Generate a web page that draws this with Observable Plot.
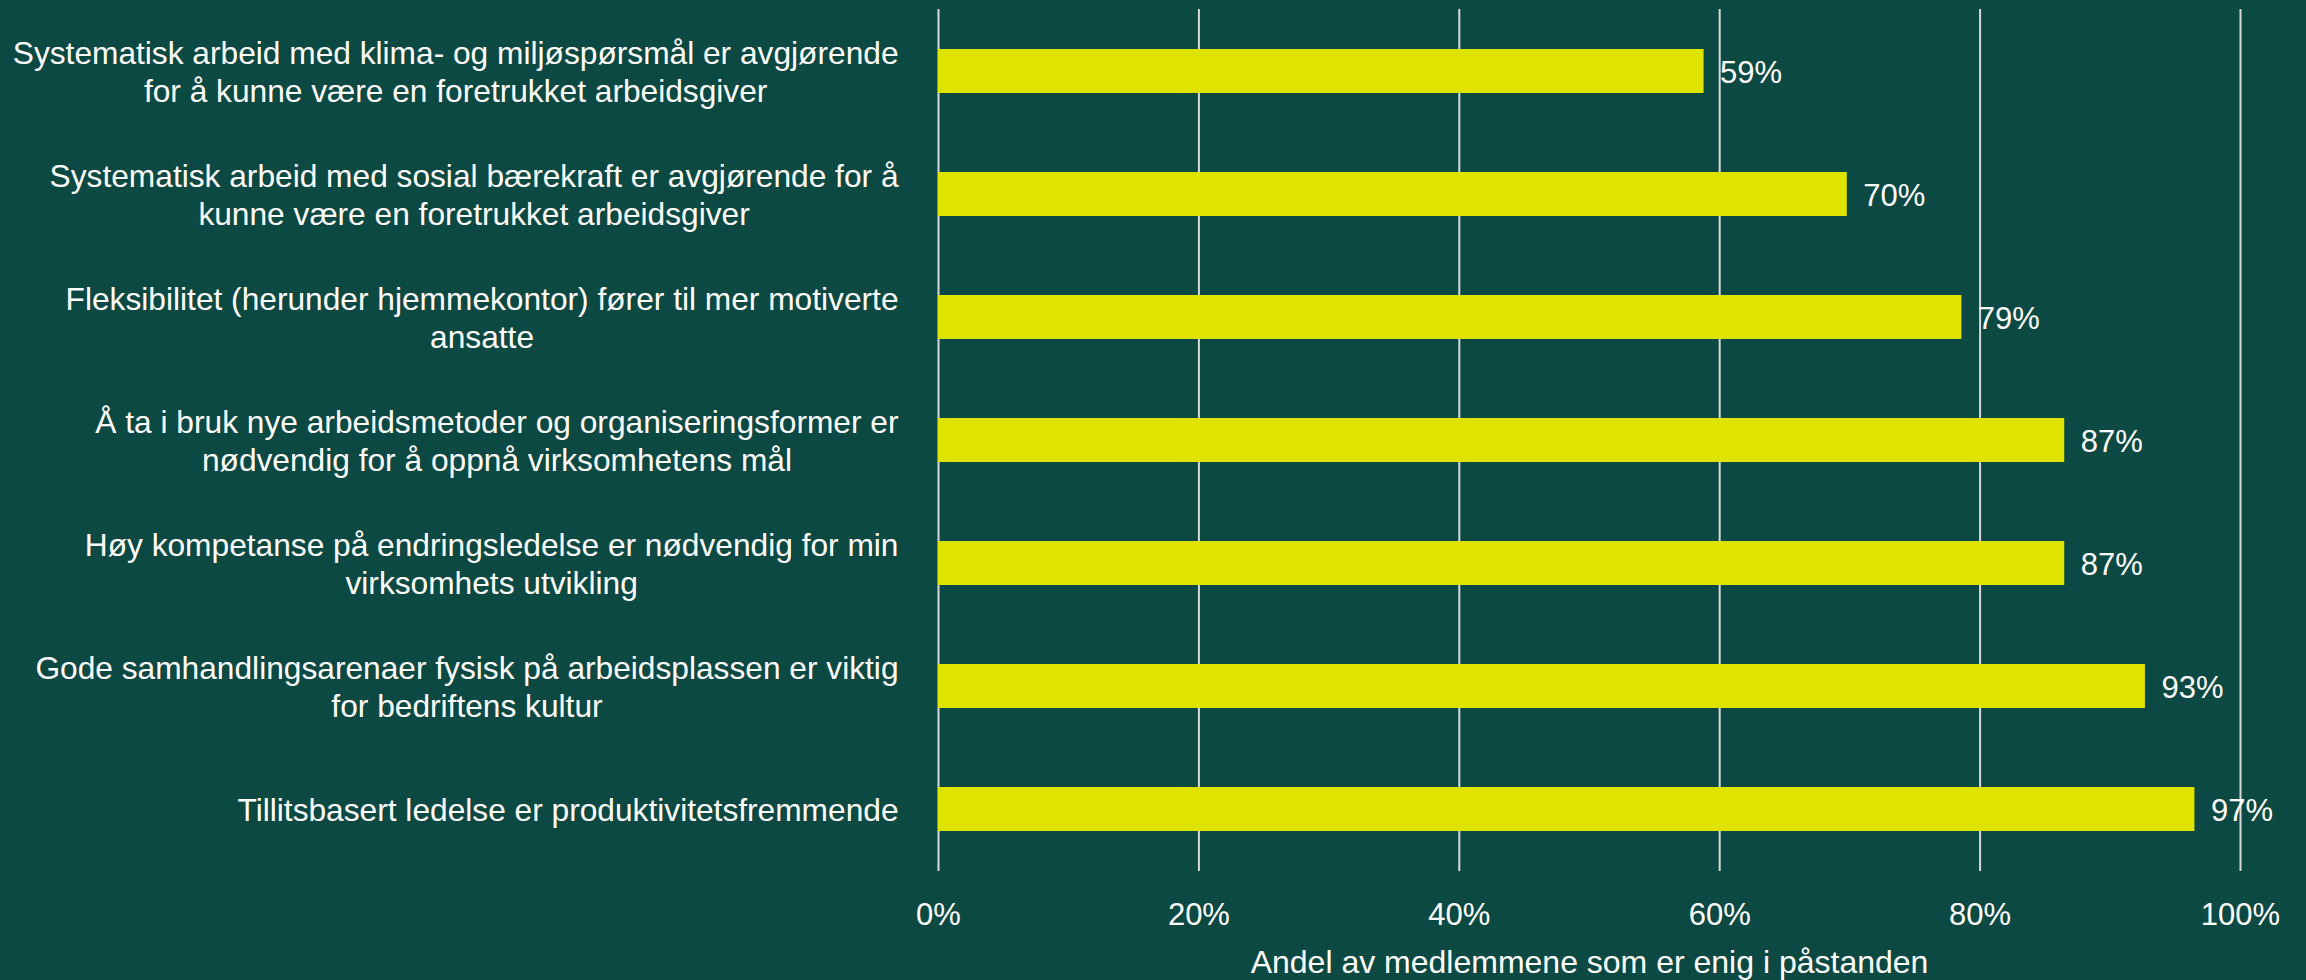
<!DOCTYPE html>
<html>
<head>
<meta charset="utf-8">
<script src="https://cdn.jsdelivr.net/npm/d3@7"></script>
<script src="https://cdn.jsdelivr.net/npm/@observablehq/plot@0.6"></script>
<style>
  html, body { margin: 0; padding: 0; background: #0d4943; }
  #chart svg { display: block; }
</style>
</head>
<body>
<div id="chart"></div>
<script>
// ---- data ----
const categories = [
  "Systematisk arbeid med klima- og miljøspørsmål er avgjørende\nfor å kunne være en foretrukket arbeidsgiver",
  "Systematisk arbeid med sosial bærekraft er avgjørende for å\nkunne være en foretrukket arbeidsgiver",
  "Fleksibilitet (herunder hjemmekontor) fører til mer motiverte\nansatte",
  "Å ta i bruk nye arbeidsmetoder og organiseringsformer er\nnødvendig for å oppnå virksomhetens mål",
  "Høy kompetanse på endringsledelse er nødvendig for min\nvirksomhets utvikling",
  "Gode samhandlingsarenaer fysisk på arbeidsplassen er viktig\nfor bedriftens kultur",
  "Tillitsbasert ledelse er produktivitetsfremmende"
];
const values = [0.588, 0.698, 0.786, 0.865, 0.865, 0.927, 0.965];
const valueLabels = ["59%", "70%", "79%", "87%", "87%", "93%", "97%"];
const xTicks = [0, 0.2, 0.4, 0.6, 0.8, 1.0];
const xTitle = "Andel av medlemmene som er enig i påstanden";

// ---- styling ----
const BG = "#0d4943";
const BAR = "#dee400";
const GRID = "#d9d9d9";
const TEXT = "#ffffff";
const FONT = "'Liberation Sans', Arial, Helvetica, sans-serif";
const catSize = 31.7;
const numSize = 31;
const gap = 40;

const data = categories.map((c, i) => ({category: c, value: values[i], label: valueLabels[i]}));

const canvas = document.createElement("canvas");
const ctx = canvas.getContext("2d");
ctx.font = `${catSize}px 'Liberation Sans', Arial, sans-serif`;
const blockWidth = s => Math.max(...s.split("\n").map(l => ctx.measureText(l).width));

const categoryMarks = data.map(d => Plot.text([d], {
  y: "category",
  text: "category",
  frameAnchor: "left",
  textAnchor: "middle",
  lineAnchor: "middle",
  lineHeight: 38 / catSize,
  dx: -(gap + blockWidth(d.category) / 2),
  dy: -1,
  fill: TEXT,
  fontSize: catSize
}));

const chart = Plot.plot({
  width: 2306,
  height: 980,
  marginLeft: 938,
  marginRight: 66,
  marginTop: 9,
  marginBottom: 109,
  style: {background: BG, color: TEXT, fontFamily: FONT},
  x: {domain: [0, 1]},
  y: {domain: categories, paddingInner: 0.643, paddingOuter: 0.3215, axis: null},
  marks: [
    Plot.gridX(xTicks, {stroke: GRID, strokeOpacity: 1, strokeWidth: 2}),
    Plot.axisX(xTicks, {
      tickSize: 0, tickPadding: 31, fontSize: numSize, fill: TEXT,
      tickFormat: d3.format(".0%"), label: null
    }),
    Plot.barX(data, {x: "value", y: "category", fill: BAR}),
    Plot.text(data, {
      x: "value", y: "category", text: "label",
      textAnchor: "start", dx: 16, dy: 2, fill: TEXT, fontSize: numSize
    }),
    ...categoryMarks,
    Plot.text([xTitle], {
      text: d => d, frameAnchor: "bottom", dy: 101,
      fill: TEXT, fontSize: 32
    })
  ]
});

document.getElementById("chart").appendChild(chart);
</script>
</body>
</html>
